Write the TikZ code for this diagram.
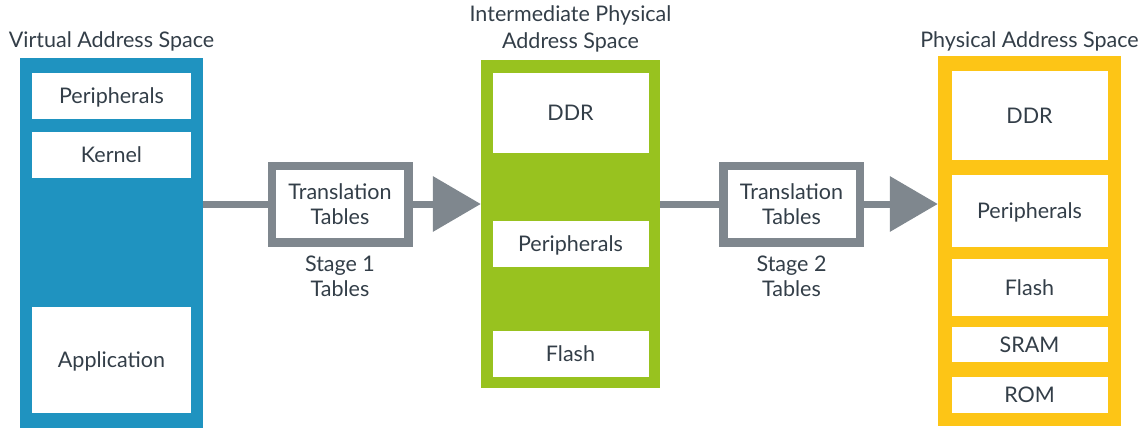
\documentclass[tikz,border=0pt]{standalone}
\usepackage{fontspec}
\setmainfont{Lato}
\usetikzlibrary{arrows.meta,positioning}
\definecolor{vaBlue}{HTML}{1F93C0}
\definecolor{ipaGreen}{HTML}{98C21F}
\definecolor{paYellow}{HTML}{FDC516}
\definecolor{tableGray}{HTML}{7F878E}
\definecolor{labelInk}{HTML}{333E48}

\begin{document}
\begin{tikzpicture}[
  x=1pt,
  y=-1pt,
  every node/.style={
    text=labelInk,
    font=\fontsize{21.5}{25.5}\selectfont,
  },
  space/.style={
    fill=#1,
    inner sep=0pt,
  },
  region/.style={
    fill=white,
    inner sep=0pt,
    text depth=0pt,
    minimum width=#1,
  },
  caption/.style={
    inner sep=0pt,
    align=center,
  },
  table box/.style={
    draw=tableGray,
    line width=8.5pt,
    fill=white,
    minimum width=136.5pt,
    minimum height=76.5pt,
    inner sep=0pt,
    align=center,
  },
  link/.style={
    draw=tableGray,
    line width=7pt,
  },
  feed/.style={
    link,
    -{Triangle[length=48pt,width=54pt]},
  }
]
\useasboundingbox (0,0) rectangle (1146,431);

% address spaces
\node[space=vaBlue,minimum width=183pt,minimum height=370pt] (va) at (111.5,243) {};
\node[space=ipaGreen,minimum width=179pt,minimum height=328pt] (ipa) at (570.5,224) {};
\node[space=paYellow,minimum width=183pt,minimum height=370pt] (pa) at (1029.5,241) {};

\node[caption,above=6pt of va] (va-title) {Virtual Address Space};
\node[caption,above=7pt of ipa,font=\fontsize{21.5}{27}\selectfont] (ipa-title) {Intermediate Physical\\Address Space};
\node[caption,above=4pt of pa] (pa-title) {Physical Address Space};

% memory regions
\foreach \i/\y/\h/\txt in {1/96/46/Peripherals,2/155/46/Kernel,3/360/106/Application}
  \node[region=159pt,minimum height=\h pt] (va-\i) at (va.north |- 0,\y) {\txt};
\foreach \i/\y/\h/\txt in {1/113/80/DDR,2/244/46/Peripherals,3/354/46/Flash}
  \node[region=156pt,minimum height=\h pt] (ipa-\i) at (ipa.north |- 0,\y) {\txt};
\foreach \i/\y/\h/\txt in {1/115.5/89/DDR,2/211/72/Peripherals,3/287.5/57/Flash,4/344.5/35/SRAM,5/395/36/ROM}
  \node[region=156pt,minimum height=\h pt] (pa-\i) at (pa.north |- 0,\y) {\txt};

% translation stages
\node[table box] (t1) at (340,204) {Translation\\Tables};
\node[table box] (t2) at (791.5,204) {Translation\\Tables};
\node[caption,below=9pt of t1] (s1) {Stage 1\\Tables};
\node[caption,below=9pt of t2] (s2) {Stage 2\\Tables};

\draw[link] (va.east |- t1.west) -- (t1.west);
\draw[feed] (t1.east) -- (ipa.west |- t1.east);
\draw[link] (ipa.east |- t2.west) -- (t2.west);
\draw[feed] (t2.east) -- (pa.west |- t2.east);
\end{tikzpicture}
\end{document}
